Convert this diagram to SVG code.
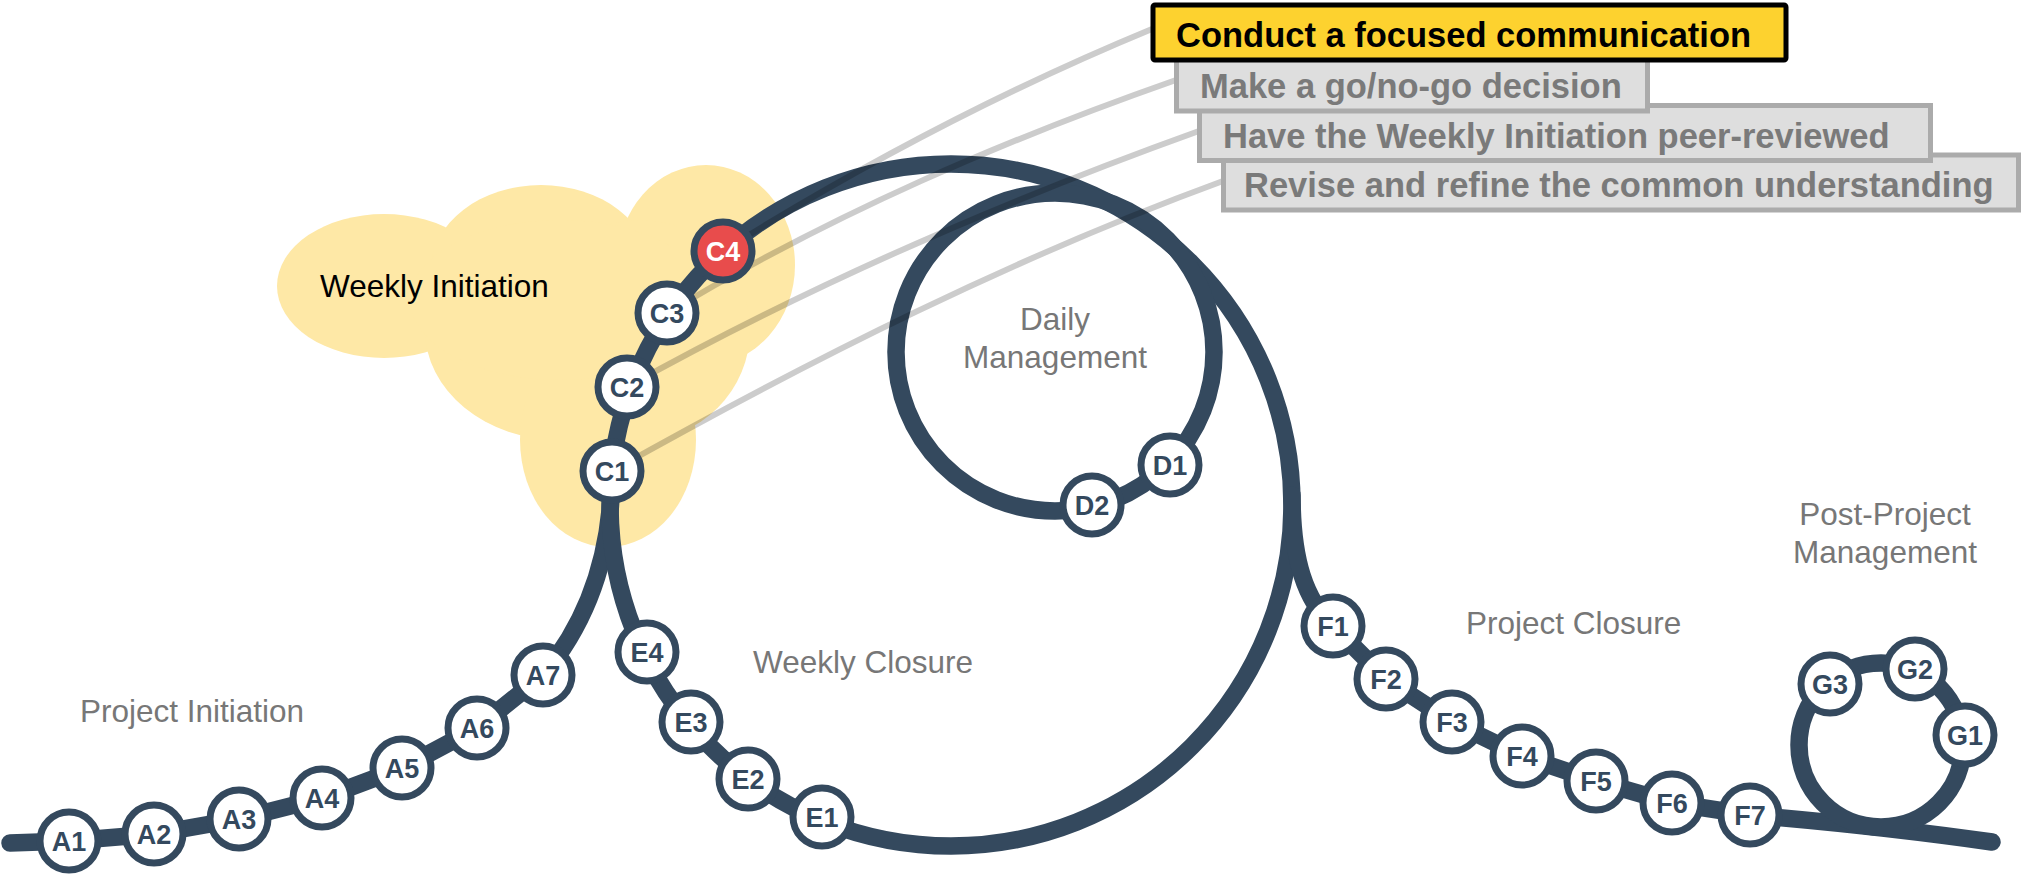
<svg xmlns="http://www.w3.org/2000/svg" width="2023" height="876" viewBox="0 0 2023 876">
<style>
.track{fill:none;stroke:#34495E;stroke-width:17.5;stroke-linecap:round;stroke-linejoin:round}
.link{fill:none;stroke:#000;stroke-opacity:0.2;stroke-width:6}
.cloud{fill:#FEE8A6}
.lbl{font-family:"Liberation Sans",Arial,sans-serif;font-size:31.5px;fill:#777777}
.nd circle{fill:#fff;stroke:#34495E;stroke-width:7}
.nd text{font-family:"Liberation Sans",Arial,sans-serif;font-size:27px;font-weight:bold;fill:#34495E;text-anchor:middle}
.box rect{fill:#DEDEDE;stroke:#ABABAB;stroke-width:5}
.box text{font-family:"Liberation Sans",Arial,sans-serif;font-size:34.5px;font-weight:bold;fill:#7A7A7A}
</style>

<g id="weekly-initiation-cloud">
  <ellipse class="cloud" cx="384" cy="286" rx="107" ry="72"/>
  <ellipse class="cloud" cx="541" cy="270" rx="110" ry="85"/>
  <ellipse class="cloud" cx="706" cy="265" rx="89" ry="100"/>
  <ellipse class="cloud" cx="560" cy="330" rx="135" ry="110"/>
  <ellipse class="cloud" cx="640" cy="330" rx="110" ry="110"/>
  <ellipse class="cloud" cx="608" cy="440" rx="88" ry="107"/>
  <ellipse class="cloud" cx="560" cy="300" rx="150" ry="80"/>
  <text x="320" y="297" style="font-family:'Liberation Sans',Arial,sans-serif;font-size:31.5px;fill:#000">Weekly Initiation</text>
</g>

<g id="phase-labels">
  <text class="lbl" x="80" y="722">Project Initiation</text>
  <text class="lbl" x="753" y="673">Weekly Closure</text>
  <text class="lbl" x="1466" y="634">Project Closure</text>
  <text class="lbl" x="1055" y="330" text-anchor="middle">Daily</text>
  <text class="lbl" x="1055" y="368" text-anchor="middle">Management</text>
  <text class="lbl" x="1885" y="525" text-anchor="middle">Post-Project</text>
  <text class="lbl" x="1885" y="563" text-anchor="middle">Management</text>
</g>

<g id="connectors">
  <path class="track" d="M10,843 L69,841 L154,834 L239,819 L322,798 L402,768 L477,728 L543,675 C585,625 612,560 612,471"/>
  <circle class="track" cx="951" cy="505" r="341"/>
  <circle class="track" cx="1055" cy="352" r="159"/>
  <path class="track" d="M1292,495 C1292,560 1305,600 1333,626 L1386,679 L1452,722 L1522,756 L1596,781 L1672,803 L1750,815 Q1880,826 1992,842"/>
  <circle class="track" cx="1881" cy="745" r="82"/>
  <path class="link" d="M723,251 C866,162 1009,88 1152,29"/>
  <path class="link" d="M667,313 C836,212 1005,140 1176,80"/>
  <path class="link" d="M627,387 C817,281 1007,200 1199,131"/>
  <path class="link" d="M612,471 C815,357 1018,256 1223,181"/>
</g>

<g id="A1" class="nd"><circle cx="69" cy="841" r="29"/><text x="69" y="850.5">A1</text></g>
<g id="A2" class="nd"><circle cx="154" cy="834" r="29"/><text x="154" y="843.5">A2</text></g>
<g id="A3" class="nd"><circle cx="239" cy="819" r="29"/><text x="239" y="828.5">A3</text></g>
<g id="A4" class="nd"><circle cx="322" cy="798" r="29"/><text x="322" y="807.5">A4</text></g>
<g id="A5" class="nd"><circle cx="402" cy="768" r="29"/><text x="402" y="777.5">A5</text></g>
<g id="A6" class="nd"><circle cx="477" cy="728" r="29"/><text x="477" y="737.5">A6</text></g>
<g id="A7" class="nd"><circle cx="543" cy="675" r="29"/><text x="543" y="684.5">A7</text></g>
<g id="C1" class="nd"><circle cx="612" cy="471" r="29"/><text x="612" y="480.5">C1</text></g>
<g id="C2" class="nd"><circle cx="627" cy="387" r="29"/><text x="627" y="396.5">C2</text></g>
<g id="C3" class="nd"><circle cx="667" cy="313" r="29"/><text x="667" y="322.5">C3</text></g>
<g id="C4" class="nd"><circle cx="723" cy="251" r="29" style="fill:#E84C4C"/><text x="723" y="260.5" style="fill:#fff">C4</text></g>
<g id="D1" class="nd"><circle cx="1170" cy="465" r="29"/><text x="1170" y="474.5">D1</text></g>
<g id="D2" class="nd"><circle cx="1092" cy="505" r="29"/><text x="1092" y="514.5">D2</text></g>
<g id="E1" class="nd"><circle cx="822" cy="817" r="29"/><text x="822" y="826.5">E1</text></g>
<g id="E2" class="nd"><circle cx="748" cy="779" r="29"/><text x="748" y="788.5">E2</text></g>
<g id="E3" class="nd"><circle cx="691" cy="722" r="29"/><text x="691" y="731.5">E3</text></g>
<g id="E4" class="nd"><circle cx="647" cy="652" r="29"/><text x="647" y="661.5">E4</text></g>
<g id="F1" class="nd"><circle cx="1333" cy="626" r="29"/><text x="1333" y="635.5">F1</text></g>
<g id="F2" class="nd"><circle cx="1386" cy="679" r="29"/><text x="1386" y="688.5">F2</text></g>
<g id="F3" class="nd"><circle cx="1452" cy="722" r="29"/><text x="1452" y="731.5">F3</text></g>
<g id="F4" class="nd"><circle cx="1522" cy="756" r="29"/><text x="1522" y="765.5">F4</text></g>
<g id="F5" class="nd"><circle cx="1596" cy="781" r="29"/><text x="1596" y="790.5">F5</text></g>
<g id="F6" class="nd"><circle cx="1672" cy="803" r="29"/><text x="1672" y="812.5">F6</text></g>
<g id="F7" class="nd"><circle cx="1750" cy="815" r="29"/><text x="1750" y="824.5">F7</text></g>
<g id="G1" class="nd"><circle cx="1965" cy="735" r="29"/><text x="1965" y="744.5">G1</text></g>
<g id="G2" class="nd"><circle cx="1915" cy="669" r="29"/><text x="1915" y="678.5">G2</text></g>
<g id="G3" class="nd"><circle cx="1830" cy="684" r="29"/><text x="1830" y="693.5">G3</text></g>

<g id="box-revise" class="box"><rect x="1223.5" y="155" width="795" height="55"/><text x="1244" y="197">Revise and refine the common understanding</text></g>
<g id="box-peer-review" class="box"><rect x="1199.5" y="105.5" width="731" height="55"/><text x="1223" y="148">Have the Weekly Initiation peer-reviewed</text></g>
<g id="box-go-no-go" class="box"><rect x="1176.5" y="56" width="471" height="55"/><text x="1200" y="98">Make a go/no-go decision</text></g>
<g id="box-focused-communication" class="box"><rect x="1153" y="5" width="633" height="55" rx="2" style="fill:#FDD22F;stroke:#000"/><text x="1176" y="47" style="fill:#000">Conduct a focused communication</text></g>
</svg>
